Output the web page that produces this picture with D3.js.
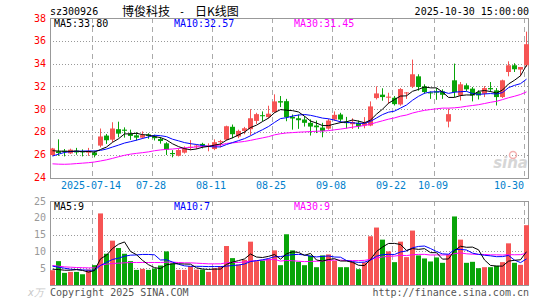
<!doctype html>
<html>
  <head>
    <meta charset="utf-8">
    <title>sz300926</title>
    <script src="https://cdn.jsdelivr.net/npm/d3@7"></script>
    <style>
      body { margin: 0; background: #fff; }
      text { font-family: "DejaVu Sans Mono", monospace; font-size: 10px; }
    </style>
  </head>
  <body>
    <script>
      // 交易日 (2025)
      const days = [
        '07-03','07-04','07-07','07-08','07-09','07-10','07-11','07-14','07-15','07-16',
        '07-17','07-18','07-21','07-22','07-23','07-24','07-25','07-28','07-29','07-30',
        '07-31','08-01','08-04','08-05','08-06','08-07','08-08','08-11','08-12','08-13',
        '08-14','08-15','08-18','08-19','08-20','08-21','08-22','08-25','08-26','08-27',
        '08-28','08-29','09-01','09-02','09-03','09-04','09-05','09-08','09-09','09-10',
        '09-11','09-12','09-15','09-16','09-17','09-18','09-19','09-22','09-23','09-24',
        '09-25','09-26','09-29','09-30','10-09','10-10','10-13','10-14','10-15','10-16',
        '10-17','10-20','10-21','10-22','10-23','10-24','10-27','10-28','10-29','10-30'
      ];

      const open = [
        25.97, 26.30, 26.35, 26.12, 26.35, 26.30, 26.18, 26.20, 26.80, 27.68,
        27.32, 28.24, 28.20, 27.85, 27.70, 27.50, 27.78, 27.60, 27.38, 27.00,
        26.15, 25.91, 26.18, 26.60, 26.72, 26.95, 26.68, 26.50, 27.10, 27.32,
        28.45, 27.60, 28.09, 28.24, 28.97, 29.47, 29.30, 29.74, 30.70, 30.70,
        29.32, 29.20, 29.09, 28.80, 28.56, 28.38, 28.29, 29.09, 29.53, 28.90,
        28.68, 28.80, 28.56, 28.56, 30.97, 31.27, 31.00, 31.00, 30.41, 31.38,
        31.97, 32.88, 32.00, 31.47, 31.56, 31.56, 28.91, 32.53, 31.20, 32.09,
        31.80, 31.50, 31.35, 31.85, 31.65, 31.06, 33.26, 33.85, 33.47, 33.85
      ];
      const high = [
        26.60, 27.35, 26.50, 26.53, 26.60, 26.47, 26.60, 26.35, 28.30, 27.82,
        28.85, 28.90, 28.40, 28.20, 27.97, 28.05, 27.88, 27.75, 27.55, 27.10,
        26.40, 26.56, 26.73, 27.28, 26.90, 27.05, 27.00, 27.35, 27.30, 28.55,
        28.65, 28.20, 28.44, 30.00, 29.68, 29.80, 30.30, 31.30, 31.15, 30.90,
        29.53, 29.53, 29.38, 29.10, 29.00, 28.80, 29.15, 29.80, 29.68, 29.32,
        29.20, 29.00, 29.30, 30.68, 32.00, 31.83, 31.44, 31.15, 31.85, 31.50,
        34.35, 33.06, 32.18, 31.56, 31.85, 31.74, 30.05, 34.00, 32.38, 32.26,
        31.94, 31.65, 32.03, 32.38, 31.85, 32.59, 34.20, 34.03, 33.70, 36.80
      ];
      const low = [
        25.90, 25.90, 25.85, 26.06, 26.00, 25.85, 25.90, 25.77, 26.65, 26.95,
        27.10, 27.53, 27.50, 27.30, 27.25, 27.40, 27.40, 27.25, 26.97, 25.98,
        25.77, 25.85, 26.10, 26.40, 26.50, 26.55, 26.30, 26.40, 26.65, 27.25,
        27.45, 27.45, 27.80, 27.70, 28.70, 28.94, 29.20, 29.67, 30.18, 28.94,
        28.20, 28.27, 28.47, 27.68, 27.90, 27.53, 28.20, 28.97, 28.80, 28.30,
        28.26, 28.27, 28.32, 28.50, 30.85, 30.74, 30.47, 30.32, 30.30, 30.90,
        31.85, 31.62, 31.35, 30.90, 30.82, 30.90, 28.40, 31.06, 30.76, 31.56,
        30.68, 30.85, 31.06, 31.50, 30.32, 30.97, 32.88, 33.26, 32.88, 33.70
      ];
      const close = [
        26.55, 26.15, 26.28, 26.44, 26.20, 26.22, 26.30, 25.97, 27.60, 27.27,
        28.30, 27.85, 28.10, 27.65, 27.50, 27.72, 27.65, 27.45, 27.20, 26.45,
        26.05, 26.41, 26.56, 26.70, 26.80, 26.80, 26.80, 27.10, 27.20, 28.50,
        27.80, 28.09, 28.32, 29.20, 29.56, 29.38, 29.60, 30.68, 30.58, 29.30,
        29.18, 29.03, 28.80, 28.47, 28.41, 28.09, 29.00, 29.50, 29.09, 28.77,
        28.88, 28.50, 28.80, 30.24, 31.38, 31.06, 31.10, 30.44, 31.76, 31.47,
        33.06, 31.94, 31.50, 31.38, 31.45, 31.26, 29.56, 31.50, 32.18, 31.74,
        31.20, 31.20, 31.85, 31.74, 31.06, 32.53, 33.85, 33.50, 33.70, 35.70
      ];
      // 成交量 (万手)
      const volume = [
        4.4, 7.1, 3.6, 3.9, 3.9, 3.2, 4.6, 5.9, 21.3, 9.3,
        13.2, 11.0, 9.3, 7.1, 4.5, 4.8, 4.5, 4.9, 5.8, 10.0,
        6.4, 4.5, 4.5, 5.6, 4.6, 4.6, 3.9, 5.0, 5.6, 11.6,
        8.0, 6.1, 7.5, 12.9, 7.1, 7.3, 7.8, 10.3, 5.9, 15.1,
        10.3, 6.9, 5.9, 8.8, 5.3, 8.8, 9.1, 7.2, 5.3, 5.3,
        6.9, 4.7, 6.7, 14.5, 17.1, 13.5, 10.0, 6.8, 12.9, 8.3,
        16.2, 8.8, 7.9, 7.0, 8.2, 6.6, 9.0, 20.4, 13.5, 6.6,
        6.9, 5.0, 5.3, 5.3, 5.7, 6.8, 12.4, 6.6, 6.0, 17.8
      ];

      // 均线开头几天的值 (窗口包含图外的日子, 从图上读出)
      const ma5Lead = [26.35, 26.32, 26.30, 26.30];
      const ma10Lead = [25.88, 26.05, 26.20, 26.27, 26.30, 26.32, 26.33, 26.33, 26.38];
      const ma30Lead = [
        25.20, 25.17, 25.16, 25.18, 25.22, 25.26, 25.30, 25.36, 25.45, 25.55,
        25.68, 25.82, 25.95, 26.05, 26.12, 26.18, 26.25, 26.35, 26.42, 26.47,
        26.50, 26.55, 26.60, 26.64, 26.68, 26.72, 26.76, 26.80, 26.85
      ];
      const vma5Lead = [4.7, 4.6, 4.4, 4.4];
      const vma10Lead = [5.6, 5.3, 5.0, 4.7, 4.6, 4.5, 4.4, 4.4, 5.8];
      const vma30Lead = [
        5.8, 5.6, 5.4, 5.3, 5.2, 5.15, 5.1, 5.1, 5.9, 6.2,
        6.4, 6.5, 6.6, 6.7, 6.7, 6.7, 6.7, 6.7, 6.7, 6.8,
        6.8, 6.7, 6.6, 6.6, 6.5, 6.4, 6.3, 6.3, 6.3
      ];

      const priceTicks = [24, 26, 28, 30, 32, 34, 36, 38];
      const volTicks = [5, 10, 15, 20, 25];
      const dateTicks = ['2025-07-14', '07-28', '08-11', '08-25', '09-08', '09-22', '10-09', '10-30'];
      const priceMaLabels = ['MA5:33.80', 'MA10:32.57', 'MA30:31.45'];
      const volMaLabels = ['MA5:9', 'MA10:7', 'MA30:9'];

      const red = '#f65454';
      const green = '#08a408';
      const maColors = ['#000000', '#0000ff', '#ff00ff'];

      const svg = d3.select('body').append('svg')
          .attr('width', 545)
          .attr('height', 300);

      const x = d3.scaleLinear().domain([0, days.length - 1]).range([50, 524]);
      const barW = 5;
      const yPrice = d3.scaleLinear().domain([24, 38]).range([177.5, 18]);
      const yVol = d3.scaleLinear().domain([0, 25]).range([285, 201]);
      const left = 50, right = 529;

      const crisp = v => Math.round(v) + 0.5;

      function movingAvg(values, n, lead) {
        return values.map((v, i) => i < n - 1 ? lead[i] : d3.mean(values.slice(i - n + 1, i + 1)));
      }

      const up = i => close[i] >= open[i];
      const tickIdx = dateTicks.map(t => days.indexOf(t.slice(-5)));

      // 面板: 网格 + 边框
      function drawPanel(y, ticks, top, bottom) {
        const g = svg.append('g');
        g.selectAll('line.h')
          .data(ticks.filter(t => y(t) > top + 2 && y(t) < bottom - 2))
          .enter().append('line')
            .attr('x1', left).attr('x2', right)
            .attr('y1', d => crisp(y(d))).attr('y2', d => crisp(y(d)))
            .attr('stroke', '#999')
            .attr('stroke-dasharray', '1,2');
        g.selectAll('line.v')
          .data(tickIdx)
          .enter().append('line')
            .attr('x1', d => x(d) + 0.5).attr('x2', d => x(d) + 0.5)
            .attr('y1', top).attr('y2', bottom)
            .attr('stroke', '#aaa')
            .attr('stroke-dasharray', '5,4');
        g.append('rect')
          .attr('x', left + 0.5)
          .attr('y', crisp(top))
          .attr('width', right - left - 1)
          .attr('height', Math.round(bottom) - Math.round(top))
          .attr('fill', 'none')
          .attr('stroke', '#999');
      }

      drawPanel(yPrice, priceTicks, yPrice(38), yPrice(24));
      drawPanel(yVol, volTicks, yVol(25), yVol(0));

      // 价格刻度
      svg.append('g')
        .selectAll('text')
        .data(priceTicks)
        .enter().append('text')
          .attr('x', 46)
          .attr('y', d => yPrice(d) + 3.5)
          .attr('text-anchor', 'end')
          .attr('fill', '#ff0000')
          .text(d => d);

      // 成交量刻度
      svg.append('g')
        .selectAll('text')
        .data(volTicks)
        .enter().append('text')
          .attr('x', 46)
          .attr('y', d => yVol(d) + 3.5)
          .attr('text-anchor', 'end')
          .attr('fill', '#999')
          .text(d => d);

      // 日期
      svg.append('g')
        .selectAll('text')
        .data(dateTicks)
        .enter().append('text')
          .attr('x', (d, i) => i === dateTicks.length - 1 ? x(tickIdx[i]) : x(tickIdx[i]) - 1)
          .attr('y', 189)
          .attr('text-anchor', (d, i) => i === dateTicks.length - 1 ? 'end' : 'middle')
          .attr('fill', '#0080cc')
          .text(d => d);

      // K线
      const candles = svg.append('g')
        .selectAll('g')
        .data(days)
        .enter().append('g');
      candles.append('line')
        .attr('x1', (d, i) => x(i) + 2.5).attr('x2', (d, i) => x(i) + 2.5)
        .attr('y1', (d, i) => yPrice(high[i]))
        .attr('y2', (d, i) => yPrice(low[i]))
        .attr('stroke', (d, i) => up(i) ? red : green);
      candles.append('rect')
        .attr('x', (d, i) => x(i))
        .attr('y', (d, i) => yPrice(Math.max(open[i], close[i])))
        .attr('width', barW)
        .attr('height', (d, i) => Math.max(1, Math.abs(yPrice(open[i]) - yPrice(close[i]))))
        .attr('fill', (d, i) => up(i) ? red : green);

      // 成交量柱
      svg.append('g')
        .selectAll('rect')
        .data(volume)
        .enter().append('rect')
          .attr('x', (d, i) => x(i))
          .attr('y', d => yVol(d))
          .attr('width', barW)
          .attr('height', d => yVol(0) - yVol(d))
          .attr('fill', (d, i) => up(i) ? red : green);

      // 均线
      const priceMa = [
        movingAvg(close, 5, ma5Lead),
        movingAvg(close, 10, ma10Lead),
        movingAvg(close, 30, ma30Lead)
      ];
      const volMa = [
        movingAvg(volume, 5, vma5Lead),
        movingAvg(volume, 10, vma10Lead),
        movingAvg(volume, 30, vma30Lead)
      ];
      const priceLine = d3.line().x((d, i) => x(i) + 2.5).y(d => yPrice(d));
      const volLine = d3.line().x((d, i) => x(i) + 2.5).y(d => yVol(d));

      [2, 1, 0].forEach(k => {
        svg.append('path')
          .attr('d', priceLine(priceMa[k]))
          .attr('fill', 'none')
          .attr('stroke', maColors[k])
          .attr('stroke-width', 1);
        svg.append('path')
          .attr('d', volLine(volMa[k]))
          .attr('fill', 'none')
          .attr('stroke', maColors[k])
          .attr('stroke-width', 1);
      });

      // 均线标签
      const labelX = [54, 174, 294];
      priceMaLabels.forEach((t, k) => {
        svg.append('text').attr('x', labelX[k]).attr('y', 27).attr('fill', maColors[k]).text(t);
      });
      volMaLabels.forEach((t, k) => {
        svg.append('text').attr('x', labelX[k]).attr('y', 209.5).attr('fill', maColors[k]).text(t);
      });

      // 标题
      const cjk = '"Noto Sans CJK SC", sans-serif';
      svg.append('text').attr('x', 50).attr('y', 15).text('sz300926');
      svg.append('text')
        .attr('x', 122).attr('y', 15.5)
        .style('font-family', cjk)
        .style('font-size', '12px')
        .text('博俊科技');
      svg.append('text')
        .attr('x', 179).attr('y', 15)
        .text('-');
      svg.append('text')
        .attr('x', 195).attr('y', 15.5)
        .style('font-family', cjk)
        .style('font-size', '12px')
        .text('日K线图');
      svg.append('text').attr('x', 529).attr('y', 15).attr('text-anchor', 'end').text('2025-10-30 15:00:00');

      // 水印和版权
      svg.append('text')
        .attr('x', 528).attr('y', 168)
        .attr('text-anchor', 'end')
        .style('font-family', '"DejaVu Sans", sans-serif')
        .style('font-size', '15px')
        .style('font-style', 'italic')
        .style('font-weight', 'bold')
        .attr('fill', '#d6d6d6')
        .text('sina');
      svg.append('circle')
        .attr('cx', 513).attr('cy', 155).attr('r', 3.5)
        .attr('fill', 'none')
        .attr('stroke', '#f3b0b0')
        .attr('stroke-width', 1.5);
      svg.append('text')
        .attr('x', 28).attr('y', 296)
        .style('font-style', 'italic')
        .attr('fill', '#c8c8c8')
        .text('x万');
      svg.append('text').attr('x', 50).attr('y', 296).attr('fill', '#555').text('Copyright 2025 SINA.COM');
      svg.append('text').attr('x', 529).attr('y', 296).attr('text-anchor', 'end').attr('fill', '#555').text('http://finance.sina.com.cn');
    </script>
  </body>
</html>
